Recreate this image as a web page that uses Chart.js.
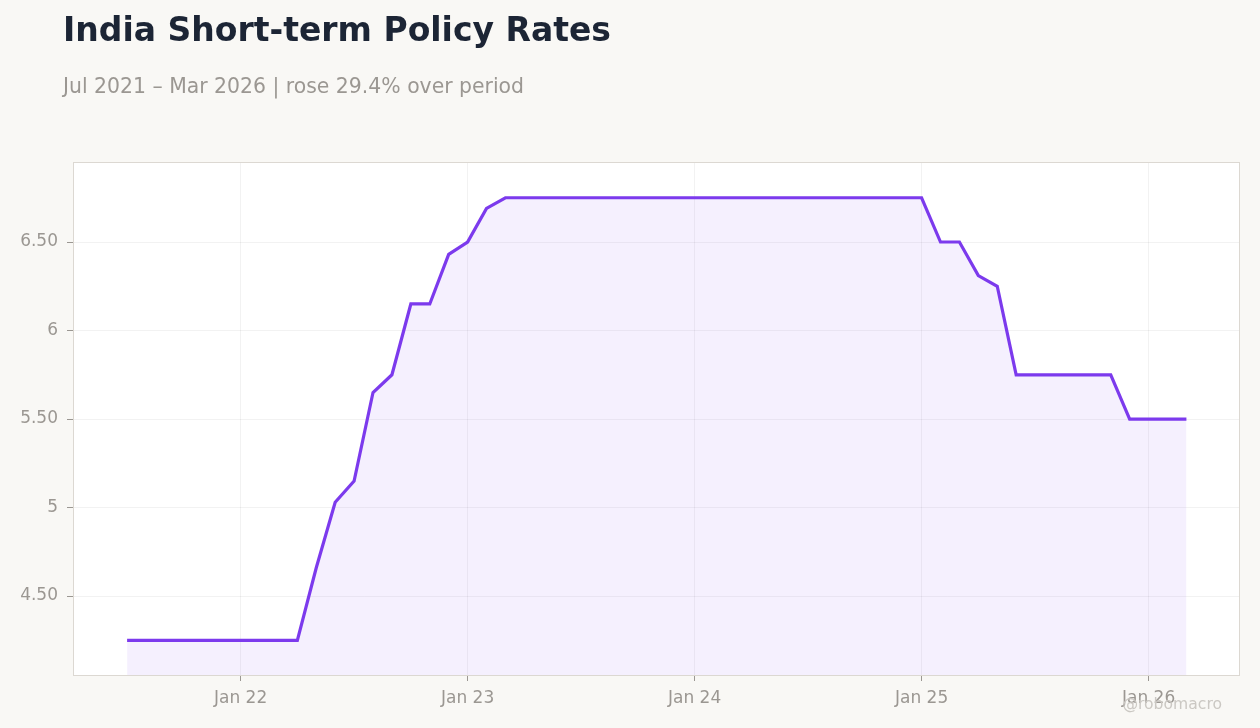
<!DOCTYPE html>
<html>
<head>
<meta charset="utf-8">
<script src="https://cdn.jsdelivr.net/npm/chart.js@4.4.1/dist/chart.umd.min.js"></script>
<style>
  html, body { margin: 0; padding: 0; background: #f9f8f5; }
  body { width: 1260px; height: 728px; position: relative; overflow: hidden; font-family: "DejaVu Sans", sans-serif; }
  #title { position: absolute; left: 63px; top: 10px; font-size: 33px; font-weight: bold; color: #1c2535; white-space: nowrap; }
  #subtitle { position: absolute; left: 63px; top: 74px; font-size: 20.4px; color: #9b9792; white-space: nowrap; }
  #credit { position: absolute; right: 38px; top: 695px; font-size: 15.6px; color: #cbc8c3; white-space: nowrap; }
  #wrap { position: absolute; left: 0; top: 0; width: 1260px; height: 728px; }
</style>
</head>
<body>
<div id="wrap"><canvas id="chart" width="1260" height="728"></canvas></div>
<div id="title">India Short-term Policy Rates</div>
<div id="subtitle">Jul 2021 – Mar 2026 | rose 29.4% over period</div>
<div id="credit">@robomacro</div>
<script>
//* Data
// monthly observations, Jul 2021 .. Mar 2026
const months = [
  '2021-07','2021-08','2021-09','2021-10','2021-11','2021-12',
  '2022-01','2022-02','2022-03','2022-04','2022-05','2022-06','2022-07','2022-08','2022-09','2022-10','2022-11','2022-12',
  '2023-01','2023-02','2023-03','2023-04','2023-05','2023-06','2023-07','2023-08','2023-09','2023-10','2023-11','2023-12',
  '2024-01','2024-02','2024-03','2024-04','2024-05','2024-06','2024-07','2024-08','2024-09','2024-10','2024-11','2024-12',
  '2025-01','2025-02','2025-03','2025-04','2025-05','2025-06','2025-07','2025-08','2025-09','2025-10','2025-11','2025-12',
  '2026-01','2026-02','2026-03'
]

const rates = [
  4.25, 4.25, 4.25, 4.25, 4.25, 4.25,
  4.25, 4.25, 4.25, 4.25, 4.66, 5.03, 5.15, 5.65, 5.75, 6.15, 6.15, 6.43,
  6.50, 6.69, 6.75, 6.75, 6.75, 6.75, 6.75, 6.75, 6.75, 6.75, 6.75, 6.75,
  6.75, 6.75, 6.75, 6.75, 6.75, 6.75, 6.75, 6.75, 6.75, 6.75, 6.75, 6.75,
  6.75, 6.50, 6.50, 6.31, 6.25, 5.75, 5.75, 5.75, 5.75, 5.75, 5.75, 5.50,
  5.50, 5.50, 5.50
]

// axis ticks
const xTickMonths = ['2022-01', '2023-01', '2024-01', '2025-01', '2026-01']
const xTickLabels = ['Jan 22', 'Jan 23', 'Jan 24', 'Jan 25', 'Jan 26']
const yTicks = [4.5, 5, 5.5, 6, 6.5]
const yTickLabels = ['4.50', '5', '5.50', '6', '6.50']

//* Chart
const points = rates.map((v, i) => ({ x: i, y: v }))
const xTickPos = xTickMonths.map(m => months.indexOf(m))

// white plot panel with thin border
const panel = {
  id: 'panel',
  beforeDraw(chart) {
    const { ctx, chartArea: a } = chart
    ctx.save()
    ctx.fillStyle = '#ffffff'
    ctx.fillRect(a.left, a.top, a.right - a.left, a.bottom - a.top)
    ctx.restore()
  },
  afterDraw(chart) {
    const { ctx, chartArea: a } = chart
    ctx.save()
    ctx.strokeStyle = '#dcd8d2'
    ctx.lineWidth = 1
    ctx.strokeRect(a.left + 0.5, a.top + 0.5, a.right - a.left, a.bottom - a.top)
    ctx.restore()
  }
}

const ctx = document.getElementById('chart').getContext('2d')
const chart = new Chart(ctx, {
  type: 'line',
  data: {
    datasets: [{
      data: points,
      borderColor: '#7c3aed',
      borderWidth: 3.2,
      backgroundColor: 'rgba(124, 58, 237, 0.08)',
      fill: 'start',
      tension: 0,
      pointRadius: 0,
    }]
  },
  options: {
    responsive: false,
    animation: false,
    devicePixelRatio: 1,
    layout: { padding: { left: 0, top: 162, right: 21, bottom: 0 } },
    plugins: { legend: { display: false }, tooltip: { enabled: false } },
    scales: {
      x: {
        type: 'linear',
        min: -2.86,
        max: months.length - 1 + 2.78,
        afterBuildTicks: scale => { scale.ticks = xTickPos.map(v => ({ value: v })) },
        afterFit: scale => { scale.height = 53 },
        ticks: {
          callback: (v) => xTickLabels[xTickPos.indexOf(v)],
          color: '#9b9792',
          font: { family: 'DejaVu Sans', size: 17 },
          padding: 7,
          maxRotation: 0,
        },
        grid: { color: 'rgba(0,0,0,0.05)', tickColor: '#9b9792', tickLength: 6 },
        border: { display: false },
      },
      y: {
        min: 4.054,
        max: 6.952,
        afterBuildTicks: scale => { scale.ticks = yTicks.map(v => ({ value: v })) },
        afterFit: scale => { scale.width = 73 },
        ticks: {
          callback: (v) => yTickLabels[yTicks.indexOf(v)],
          color: '#9b9792',
          font: { family: 'DejaVu Sans', size: 17 },
          padding: 9,
        },
        grid: { color: 'rgba(0,0,0,0.05)', tickColor: '#9b9792', tickLength: 6 },
        border: { display: false },
      }
    }
  },
  plugins: [panel]
})
</script>
</body>
</html>
